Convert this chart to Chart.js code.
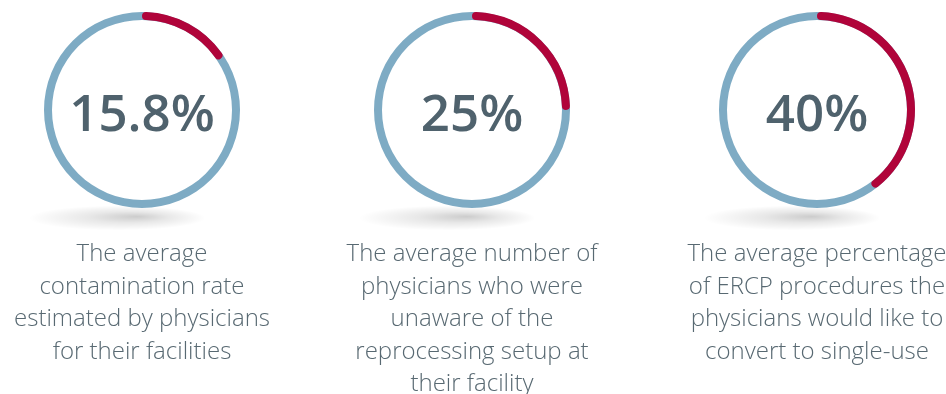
<!DOCTYPE html>
<html>
<head>
<meta charset="utf-8">
<script src="https://cdn.jsdelivr.net/npm/chart.js@4.4.1/dist/chart.umd.min.js"></script>
<style>
  html, body { margin: 0; padding: 0; background: #fff; }
  body { width: 946px; height: 394px; position: relative; overflow: hidden; }
  .col { position: absolute; top: 0; width: 280px; }
  .ring { position: relative; width: 280px; height: 236px; }
  .caption {
    position: absolute; top: 236px; left: -30px; width: 340px;
    text-align: center; font-family: "Open Sans", sans-serif; font-size: 24px;
    line-height: 32.5px; color: #586972; font-weight: 300;
  }
</style>
</head>
<body>
<div class="col" id="col0" style="left:2px"><div class="ring"><canvas id="c0"></canvas></div><div class="caption" id="t0"></div></div>
<div class="col" id="col1" style="left:332px"><div class="ring"><canvas id="c1"></canvas></div><div class="caption" id="t1"></div></div>
<div class="col" id="col2" style="left:677px"><div class="ring"><canvas id="c2"></canvas></div><div class="caption" id="t2"></div></div>
<script>
// values shown in the rings (percent)
let values = [15.8, 25, 40];
let valueLabels = ["15.8%", "25%", "40%"];
let captions = [
    ["The average", "contamination rate", "estimated by physicians", "for their facilities"],
    ["The average number of", "physicians who were", "unaware of the", "reprocessing setup at", "their facility"],
    ["The average percentage", "of ERCP procedures the", "physicians would like to", "convert to single-use"]
];

const RED = "#b0043a";
const BLUE = "#7eabc4";

// blue full ring behind + soft shadow under it
const ringBack = {
    id: 'ringBack',
    beforeDatasetsDraw(chart) {
        let arc = chart.getDatasetMeta(0).data[0];
        if (!arc) return;
        let ctx = chart.ctx;
        let cx = arc.x, cy = arc.y;
        let r = arc.outerRadius, ir = arc.innerRadius;

        // shadow, a bit to the left and fading out
        ctx.save();
        ctx.translate(cx - 25, cy + r + 10);
        ctx.scale(1, 0.14);
        let g = ctx.createRadialGradient(20, -10, 0, 0, 0, r * 0.9);
        g.addColorStop(0, 'rgba(0,0,0,0.2)');
        g.addColorStop(0.45, 'rgba(0,0,0,0.09)');
        g.addColorStop(1, 'rgba(0,0,0,0)');
        ctx.fillStyle = g;
        ctx.beginPath();
        ctx.arc(0, 0, r * 0.9, 0, Math.PI * 2);
        ctx.fill();
        ctx.restore();

        // white fill so the shadow doesn't show inside
        ctx.save();
        ctx.fillStyle = '#fff';
        ctx.beginPath();
        ctx.arc(cx, cy, r, 0, Math.PI * 2);
        ctx.fill();
        ctx.beginPath();
        ctx.arc(cx, cy, r, 0, Math.PI * 2);
        ctx.arc(cx, cy, ir, 0, Math.PI * 2, true);
        ctx.fillStyle = BLUE;
        ctx.fill();
        ctx.restore();
    },
    afterDatasetsDraw(chart, args, opts) {
        let arc = chart.getDatasetMeta(0).data[0];
        if (!arc) return;
        let ctx = chart.ctx;
        ctx.save();
        ctx.font = '600 51px "Open Sans", sans-serif';
        ctx.fillStyle = '#4f626d';
        ctx.textAlign = 'center';
        ctx.textBaseline = 'alphabetic';
        ctx.fillText(opts.text, arc.x, arc.y + 21);
        ctx.restore();
    }
};

function makeRing(i) {
    new Chart(document.getElementById('c' + i), {
        type: 'doughnut',
        data: {
            labels: ['value', 'rest'],
            datasets: [{
                data: [values[i], 100 - values[i]],
                backgroundColor: [RED, 'rgba(0,0,0,0)'],
                borderWidth: 0,
                borderRadius: (ctx) => ctx.dataIndex == 0 ? 4 : 0
            }]
        },
        options: {
            responsive: true,
            maintainAspectRatio: false,
            animation: false,
            cutout: 90,
            events: [],
            layout: { padding: { top: 12, bottom: 28 } },
            plugins: {
                legend: { display: false },
                tooltip: { enabled: false },
                ringBack: { text: valueLabels[i] }
            }
        },
        plugins: [ringBack]
    });
    document.getElementById('t' + i).innerHTML = captions[i].join('<br>');
}

for (let i = 0; i < values.length; i++) makeRing(i);
</script>
</body>
</html>
